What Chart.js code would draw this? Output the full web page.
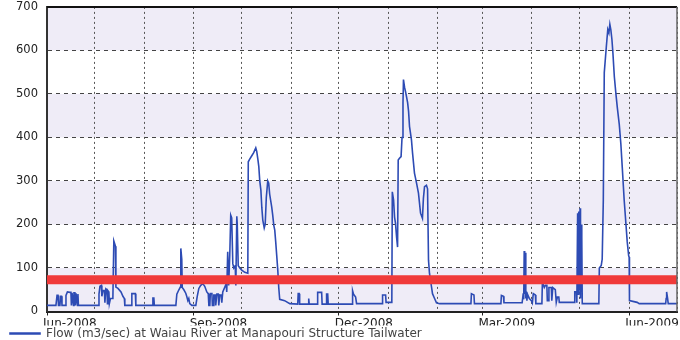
<!DOCTYPE html>
<html><head><meta charset="utf-8">
<script src="https://cdn.jsdelivr.net/npm/chart.js@4"></script>
<style>html,body{margin:0;padding:0;background:#fff;} canvas{display:block;}</style>
</head><body>
<canvas id="c" width="680" height="340"></canvas>
<script>
// x = days since 1 Jun 2008
const days = [0,5.6,6.3,6.9,7.2,8.1,8.5,9.1,9.4,11.3,11.9,12.8,14.4,15,15.3,15.7,16.3,16.6,16.9,17.5,17.8,18.2,18.8,19.1,19.4,19.7,
32.3,32.6,33.2,34.1,34.4,35.1,36,36.3,36.9,37.6,37.9,38.2,38.8,39.1,39.8,41.3,41.9,42.9,43.2,44.5,46.4,47.6,48.5,48.8,
53,53.2,55.4,55.7,66.1,66.4,67,67.3,80.8,81.4,82.7,83.6,83.9,84.5,84.8,85.8,87,87.6,88.3,88.9,89.5,90.8,
93.3,94.2,95.2,96.4,97.7,98.9,100.2,101.1,101.5,102.1,102.4,103.4,103.7,104.3,104.6,105.5,105.8,106.5,107.4,107.7,108.3,109.2,109.6,
110.2,111.5,112.4,112.7,113.3,113.9,114.6,115.2,115.8,116.5,117.1,118,118.4,119,119.3,119.9,120.9,122.1,124,125.9,
126.2,127.1,128.4,129.6,130.9,131.5,132.2,132.8,133.4,134.1,134.7,135.3,136.2,136.8,137.5,138.4,139,139.6,140.9,141.5,142.2,142.8,
143.4,144,144.7,145.3,145.9,149,152.2,157.2,157.5,158.1,158.4,163.8,164.1,164.4,169.4,169.7,172.2,172.5,175,175.3,176,176.3,
191.3,191.6,192.2,193.5,194.1,210.1,210.4,212.3,212.6,216.2,216.5,217.3,217.9,218.5,219.2,219.8,220.2,221,222,222.6,223.2,223.5,
224.2,224.8,225.4,226.1,226.7,227.3,228.5,229.2,230.4,231.7,232.9,234.2,235.4,236,236.7,237.9,238.6,239.2,239.8,241.1,241.7,243,244.2,246.1,
265.8,266.1,267.7,268,284.6,284.9,286.2,286.5,297.9,298.6,298.9,299.2,299.5,299.9,300.2,300.6,300.9,301.2,302.4,303.7,304.3,304.9,306.2,306.5,
310.3,310.6,311.8,312.5,313.4,313.7,314.4,314.7,316.2,316.5,317.1,318.7,319.3,320,320.9,321.2,330.6,330.9,331.9,332.2,
332.7,333,333.4,333.8,334.2,334.5,334.9,335.3,335.6,346,346.3,347.5,348.1,348.8,349.4,350.7,351.6,352.3,352.9,353.5,354.2,354.8,
355.7,356.7,357.6,358.8,359.8,360.7,361.9,362.9,363.8,364.7,365,365.2,370,371.3,387.9,388.2,388.5,389.1,389.5,395];
// m3/sec
const flow = [14,14,37,37,14,14,35,35,14,14,37,45,44,44,14,43,43,14,43,43,14,42,42,14,40,14,
14,40,58,60,35,48,48,20,52,50,18,48,45,18,30,30,162,150,56,53,45,35,30,14,
14,41,41,14,14,31,31,14,14,40,50,56,145,120,55,50,42,35,25,30,18,14,
14,35,53,60,64,58,45,41,14,14,41,41,14,14,38,38,14,40,40,14,38,38,20,
45,56,64,45,137,60,130,221,215,110,100,105,60,219,200,105,100,95,90,88,
344,350,358,365,376,368,350,333,300,279,238,210,192,200,262,300,295,270,240,222,198,187,
160,130,95,55,28,25,18,17,41,41,17,17,30,17,17,44,44,17,17,40,40,17,
17,48,40,33,18,18,38,38,21,21,275,256,217,203,170,148,348,352,356,400,480,533,
515,505,494,480,460,425,395,364,318,295,272,226,214,260,287,290,282,118,88,56,41,30,20,18,
18,41,38,18,18,37,35,20,20,42,28,139,40,135,30,45,25,40,30,25,20,41,38,18,
18,68,55,60,60,25,25,55,55,25,55,50,21,33,33,21,21,45,45,20,
226,40,230,50,237,30,200,170,18,18,100,106,120,256,549,609,648,640,660,648,625,595,
540,500,468,430,385,330,255,205,160,128,125,25,21,18,18,30,45,30,18,18];
const thresholdDays = [0, 395];
const thresholdFlow = [73, 73];
const monthTickDays = [0,30,61,92,122,153,183,214,245,273,304,334,365,395];
const labelTickDays = [0,92,183,273,365];
const tickLabels = ['Jun-2008','Sep-2008','Dec-2008','Mar-2009','Jun-2009'];
const yTicks = [0,100,200,300,400,500,600,700];
const seriesLabel = 'Flow (m3/sec) at Waiau River at Manapouri Structure Tailwater';

const bandsPlugin = {
  id: 'bands',
  beforeDraw(chart) {
    const {ctx, chartArea: a, scales: {y}} = chart;
    ctx.save();
    ctx.fillStyle = '#ffffff';
    ctx.fillRect(0, 0, chart.width, chart.height);
    ctx.fillStyle = '#EFECF7';
    for (let i = 0; i + 1 < yTicks.length; i += 2) {
      const t = y.getPixelForValue(yTicks[i + 1]), b = y.getPixelForValue(yTicks[i]);
      ctx.fillRect(a.left, t, a.right - a.left, b - t);
    }
    ctx.restore();
  }
};
const framePlugin = {
  id: 'frame',
  afterDatasetsDraw(chart) {
    const {ctx, chartArea: a} = chart;
    ctx.save();
    ctx.strokeStyle = '#111'; ctx.lineWidth = 2;
    ctx.beginPath(); ctx.moveTo(a.left, a.top); ctx.lineTo(a.right, a.top); ctx.stroke();
    ctx.strokeStyle = '#666'; ctx.lineWidth = 1.5;
    ctx.beginPath(); ctx.moveTo(a.right, a.top); ctx.lineTo(a.right, a.bottom); ctx.stroke();
    ctx.restore();
  }
};

new Chart(document.getElementById('c'), {
  type: 'line',
  data: {
    datasets: [
      {label: 'threshold', data: thresholdDays.map((d, i) => ({x: d, y: thresholdFlow[i]})),
       borderColor: '#F03A3A', backgroundColor: '#F03A3A', borderWidth: 9, pointRadius: 0, order: 0, borderCapStyle: 'butt'},
      {label: seriesLabel, data: days.map((d, i) => ({x: d, y: flow[i]})),
       borderColor: '#2D4BB4', backgroundColor: '#2D4BB4', borderWidth: 1.6, pointRadius: 0, order: 1, tension: 0}
    ]
  },
  options: {
    responsive: false, devicePixelRatio: 1, animation: false,
    layout: {padding: {left: 8, right: 3, top: 0, bottom: -9.5}},
    plugins: {
      legend: {position: 'bottom', align: 'start',
        labels: {filter: item => item.datasetIndex === 1, boxWidth: 30, boxHeight: 1, padding: 2,
          color: '#444', font: {family: 'DejaVu Sans', size: 12}}},
      tooltip: {enabled: false}
    },
    scales: {
      x: {type: 'linear', min: 0, max: 395,
        afterBuildTicks: s => { s.ticks = monthTickDays.map(v => ({value: v})); },
        afterFit: s => { s.height = 14; },
        ticks: {autoSkip: false, maxRotation: 0, minRotation: 0, align: 'start', labelOffset: -4, padding: 1,
          color: '#222', font: {family: 'DejaVu Sans', size: 12},
          callback: v => { const i = labelTickDays.indexOf(v); return i >= 0 ? tickLabels[i] : ''; }},
        grid: {color: '#555', lineWidth: 1, tickLength: 4,
          tickColor: c => (c.tick && labelTickDays.includes(c.tick.value)) ? '#222' : 'rgba(0,0,0,0)'},
        border: {display: true, color: '#222', width: 2, dash: [2, 3]}
      },
      y: {min: 0, max: 700,
        afterBuildTicks: s => { s.ticks = yTicks.map(v => ({value: v})); },
        afterFit: s => { s.width = 39; },
        ticks: {padding: 0, color: '#222', font: {family: 'DejaVu Sans', size: 11.5}},
        grid: {color: '#444', drawTicks: true, tickLength: 9, tickColor: 'rgba(0,0,0,0)'},
        border: {display: true, color: '#333', width: 2, dash: [4, 4]}
      }
    }
  },
  plugins: [bandsPlugin, framePlugin]
});
</script>
</body></html>
